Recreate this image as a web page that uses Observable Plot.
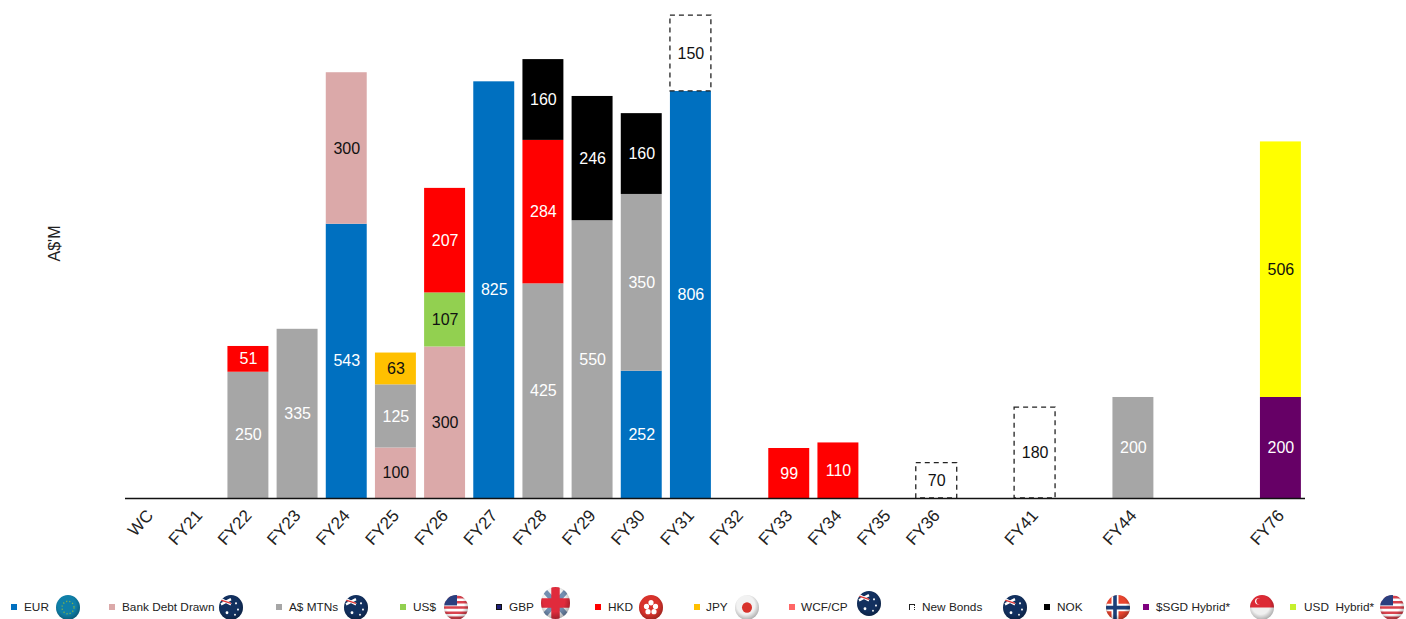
<!DOCTYPE html>
<html><head><meta charset="utf-8">
<script src="https://cdn.jsdelivr.net/npm/d3@7"></script>
<script src="https://cdn.jsdelivr.net/npm/@observablehq/plot@0.6"></script>
<style>
html,body{margin:0;padding:0;background:#fff;overflow:hidden;width:1406px;height:619px;font-family:"Liberation Sans",Arial,sans-serif}
#chart{position:absolute;left:0;top:0}
#legend{position:absolute;left:0;top:0;width:1406px;height:619px;pointer-events:none}
.sw{position:absolute;width:6px;height:6px;top:604px;box-sizing:border-box}
.lb{position:absolute;top:600px;font-size:11.8px;line-height:14px;color:#222;white-space:pre}
.fl{position:absolute;filter:blur(.6px)}
</style></head><body>
<div id="chart"></div><div id="legend"></div>
<script>
const slots = ["WC","FY21","FY22","FY23","FY24","FY25","FY26","FY27","FY28","FY29","FY30","FY31","FY32","FY33","FY34","FY35","FY36","·1","FY41","·2","FY44","·3","·4","FY76"];
const tickLabels = slots.filter(s => s.startsWith("FY") || s === "WC");

const EUR = [["FY24",543],["FY27",825],["FY30",252],["FY31",806]];
const BankDebt = [["FY24",300],["FY25",100],["FY26",300]];
const AMTN = [["FY22",250],["FY23",335],["FY25",125],["FY28",425],["FY29",550],["FY30",350],["FY44",200]];
const USD = [["FY26",107]];
const HKD = [["FY22",51],["FY26",207],["FY28",284],["FY33",99],["FY34",110]];
const JPY = [["FY25",63]];
const NOK = [["FY28",160],["FY29",246],["FY30",160]];
const NewBonds = [["FY31",150],["FY36",70],["FY41",180]];
const SGDHybrid = [["FY76",200]];
const USDHybrid = [["FY76",506]];

const seriesList = [
  ["EUR",EUR,"#0070C0","#fff"],
  ["Bank Debt Drawn",BankDebt,"#DBA9A9","#111"],
  ["A$ MTNs",AMTN,"#A6A6A6","#fff"],
  ["US$",USD,"#92D050","#111"],
  ["HKD",HKD,"#FF0000","#fff"],
  ["JPY",JPY,"#FFC000","#111"],
  ["NOK",NOK,"#000000","#fff"],
  ["New Bonds",NewBonds,"#FFFFFF","#111"],
  ["$SGD Hybrid*",SGDHybrid,"#660066","#fff"],
  ["USD Hybrid*",USDHybrid,"#FFFF00","#111"]
];
const rows = seriesList.flatMap(([series,vals,fill,ink]) => vals.map(([period,value]) => ({period,value,series,fill,ink})));
const stackOpts = {x:"period", y:"value", z:"series"};

const plot = Plot.plot({
  width:1406, height:590,
  marginLeft:125, marginRight:101, marginTop:0, marginBottom:92,
  style:{fontFamily:'"Liberation Sans",Arial,sans-serif',background:"#fff",overflow:"visible"},
  x:{domain:slots, type:"band", paddingInner:0.167, paddingOuter:0.0835, round:false, label:null},
  y:{domain:[0,986], range:[498,0], axis:null},
  marks:[
    Plot.barY(rows, Plot.stackY({...stackOpts,
      fill:"fill",
      stroke:d=>d.series==="New Bonds"?"#222":"none",
      strokeDasharray:"5,4",
      strokeWidth:1.3})),
    Plot.text(rows, Plot.stackY({...stackOpts, text:d=>String(d.value), fill:"ink", fontSize:16})),
    Plot.ruleY([0],{stroke:"#111",strokeWidth:1.5}),
    Plot.axisX({ticks:tickLabels, tickSize:0, tickRotate:-48, tickPadding:14, fontSize:17, color:"#222", label:null, textAnchor:"end"}),
    Plot.text(["A$'M"],{frameAnchor:"left",textAnchor:"middle",dx:-71,dy:-6,rotate:-90,fontSize:16,fill:"#222"})
  ]
});
document.getElementById("chart").append(plot);

/* legend */
const legendNames = ["EUR","Bank Debt Drawn","A$ MTNs","US$","GBP","HKD","JPY","WCF/CP","New Bonds","NOK","$SGD Hybrid*","USD  Hybrid*"];
const legendColors = ["#0070C0","#DBA9A9","#A6A6A6","#92D050","#1F1F7A","#FF0000","#FFC000","#FF6666","none","#000000","#7F007F","#C6F02D"];
const legendFlags = ["eu","au","au","us","uk","hk","jp","au","au","no","sg","us"];
const swatchX = [11,109,276,400,496,595,694,789,909,1044,1143,1290];
const textX   = [24,122,289,413,509,608,706,801,922,1057,1156,1304];
const flagX   = [68,231,356,456,555,651,747,869,1015,1118,1262,1392];
const flagY   = [607,607,607,607,603,607,607,603,607,607,607,607];

const art = {
  eu:`<rect width="24" height="24" fill="#0F7FA8"/><circle cx="12" cy="12" r="6" fill="none" stroke="#7FB04A" stroke-width="1.3" stroke-dasharray="1.2,2"/>`,
  au:`<rect width="24" height="24" fill="#12305F"/><path d="M2 4L12 9M2 9L12 4" stroke="#fff" stroke-width="2.4"/><path d="M2 5L12 8" stroke="#D33" stroke-width="1.3"/><circle cx="8" cy="17" r="1.4" fill="#fff"/><circle cx="17" cy="8" r="1" fill="#fff"/><circle cx="19" cy="14" r="1" fill="#fff"/><circle cx="16" cy="19" r="1" fill="#fff"/>`,
  us:`<rect width="24" height="24" fill="#fff"/><path d="M0 2H24M0 7H24M0 12H24M0 17H24M0 22H24" stroke="#D9434E" stroke-width="2.5"/><rect width="13" height="10" y="0" fill="#2A3F7F"/>`,
  uk:`<rect width="24" height="24" fill="#f2f2f2"/><path d="M0 0L24 24M24 0L0 24" stroke="#1E4B85" stroke-width="4" opacity=".6"/><path d="M12 0V24M0 12H24" stroke="#E02B3C" stroke-width="7"/>`,
  hk:`<rect width="24" height="24" fill="#D8322B"/><g fill="#fff"><circle cx="12" cy="7.5" r="2.6"/><circle cx="16.5" cy="11" r="2.6"/><circle cx="15" cy="16" r="2.6"/><circle cx="9" cy="16" r="2.6"/><circle cx="7.5" cy="11" r="2.6"/></g>`,
  jp:`<rect width="24" height="24" fill="#F2F2F2"/><circle cx="12" cy="12" r="5" fill="#D8322B"/>`,
  no:`<rect width="24" height="24" fill="#E8442E"/><path d="M9 0V24M0 12H24" stroke="#fff" stroke-width="7"/><path d="M9 0V24M0 12H24" stroke="#1C3F78" stroke-width="3.6"/>`,
  sg:`<rect width="24" height="24" fill="#F0F0F0"/><rect width="24" height="12" fill="#DC2A35"/><circle cx="8" cy="6" r="3" fill="#fff"/><circle cx="9.3" cy="6" r="3" fill="#DC2A35"/>`
};
const legend = document.getElementById("legend");
const defs = `<svg width="0" height="0" style="position:absolute"><defs><radialGradient id="sh" cx="45%" cy="40%" r="62%"><stop offset="60%" stop-color="#000" stop-opacity="0"/><stop offset="100%" stop-color="#000" stop-opacity=".3"/></radialGradient></defs></svg>`;
let html = defs;
legendNames.forEach((name,i)=>{
  const isNew = name==="New Bonds", isGbp = name==="GBP";
  const st = isNew ? "background:#fff;border-top:1px solid #222;border-left:1px solid #222;border-right:1px dotted #222;" :
             isGbp ? `background:${legendColors[i]};border:1px solid #111;` :
             `background:${legendColors[i]};`;
  html += `<div class="sw" style="left:${swatchX[i]}px;${st}"></div>`;
  html += `<div class="lb" style="left:${textX[i]}px">${name}</div>`;
  const big = legendFlags[i]==="uk";
  const w = big?29:24, h = big?32:25;
  html += `<svg class="fl" style="left:${flagX[i]-w/2}px;top:${flagY[i]-h/2}px" width="${w}" height="${h}" viewBox="0 0 24 24" preserveAspectRatio="none"><defs><clipPath id="c${i}"><circle cx="12" cy="12" r="12"/></clipPath></defs><g clip-path="url(#c${i})">${art[legendFlags[i]]}<rect width="24" height="24" fill="url(#sh)"/></g></svg>`;
});
legend.innerHTML = html;
</script>
</body></html>
